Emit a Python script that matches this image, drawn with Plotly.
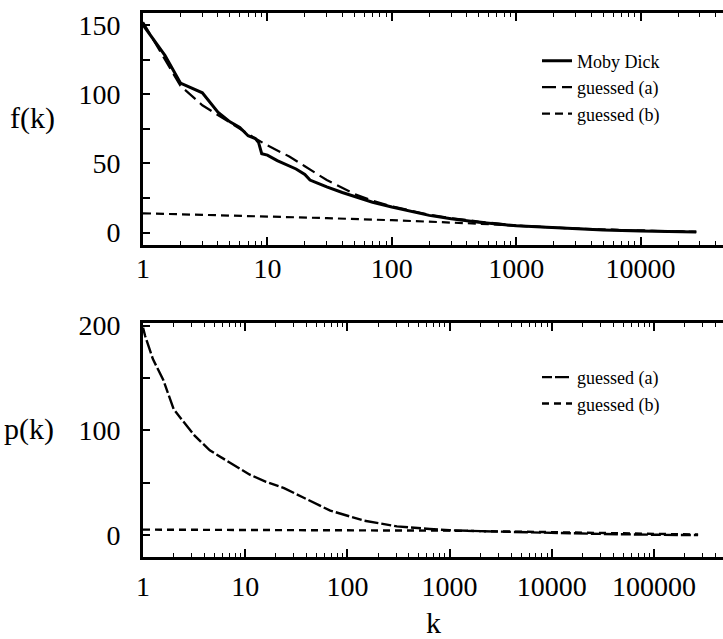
import plotly.graph_objects as go

# ---------------- data ----------------
# top panel: f(k)
moby_k = [1, 1.5, 2, 3, 4, 5, 6, 7, 8, 8.5, 9, 10, 12, 15, 17, 20, 22, 25, 30, 40,
          50, 70, 100, 150, 200, 300, 500, 1000, 2000, 5000, 10000, 20000, 28000]
moby_f = [150, 128, 108, 101, 87, 80, 76, 70, 68, 65, 57, 56, 52, 48, 46, 42, 38, 36, 33, 29,
          26, 22, 18.5, 15, 12.5, 10, 7.5, 5, 3.5, 2, 1.3, 0.8, 0.5]

guess_a_k = [1, 1.5, 2, 3, 4, 5, 6, 8, 10, 15, 20, 30, 50, 70, 100, 150, 200, 300,
             500, 1000, 2000, 5000, 10000, 20000, 28000]
guess_a_f = [152, 125, 106, 92, 85, 79, 75, 68, 63, 55, 48, 38, 28, 23, 19, 15.5, 13, 10.5,
             8, 5.2, 3.6, 2.1, 1.4, 0.9, 0.6]

guess_b_k = [1, 3, 10, 30, 100, 200, 500, 1000, 3000, 10000, 28000]
guess_b_f = [14, 13, 12, 10.5, 9, 8, 6.5, 5, 3, 1.5, 0.6]

# bottom panel: p(k)
pa_k = [1, 1.05, 1.25, 1.58, 2, 2.5, 3.2, 4.5, 7, 11, 16, 24, 37, 68, 145, 305, 640,
        1000, 3000, 10000, 30000, 100000, 270000]
pa_p = [198, 190, 168, 148, 120, 108, 95, 81, 70, 58, 51, 45, 36, 23.5, 14, 8.5, 6,
        4.8, 3.5, 2.2, 1.3, 0.5, 0.2]

pb_k = [1, 10, 100, 1000, 10000, 100000, 270000]
pb_p = [5.4, 5.3, 5.0, 4.4, 3.0, 1.5, 0.7]

legend_top = ["Moby Dick", "guessed (a)", "guessed (b)"]
legend_bot = ["guessed (a)", "guessed (b)"]

# ---------------- layout geometry ----------------
W, H = 723, 639
ML, MR, MT, MB = 143, 0, 5, 82
PW, PH = W - ML - MR, H - MT - MB


def px_x(px):
    return (px - ML) / PW


def px_y(py):
    return (H - MB - py) / PH


FONT = "Liberation Serif, Times New Roman, serif"

fig = go.Figure()

fig.add_trace(go.Scatter(x=moby_k, y=moby_f, name=legend_top[0], mode="lines",
                         line=dict(color="black", width=3), xaxis="x", yaxis="y",
                         legend="legend"))
fig.add_trace(go.Scatter(x=guess_a_k, y=guess_a_f, name=legend_top[1], mode="lines",
                         line=dict(color="black", width=2.2, dash="14px,6px"),
                         xaxis="x", yaxis="y", legend="legend"))
fig.add_trace(go.Scatter(x=guess_b_k, y=guess_b_f, name=legend_top[2], mode="lines",
                         line=dict(color="black", width=2.2, dash="8px,5px"),
                         xaxis="x", yaxis="y", legend="legend"))

fig.add_trace(go.Scatter(x=pa_k, y=pa_p, name=legend_bot[0], mode="lines",
                         line=dict(color="black", width=2.4, dash="10px,3px,14px,3px"),
                         xaxis="x2", yaxis="y2", legend="legend2"))
fig.add_trace(go.Scatter(x=pb_k, y=pb_p, name=legend_bot[1], mode="lines",
                         line=dict(color="black", width=2.4, dash="7px,5px"),
                         xaxis="x2", yaxis="y2", legend="legend2"))

top_dom = [px_y(240), 1.0]
bot_dom = [0.0, px_y(320)]

tickfont = dict(family=FONT, size=28, color="black")

xcommon = dict(type="log", dtick=1, tickformat="d", showline=True, linecolor="black",
               linewidth=2.6, mirror="ticks", ticks="inside", ticklen=8, tickwidth=1.5,
               tickcolor="black", showgrid=False, zeroline=False, tickfont=tickfont,
               minor=dict(dtick="D1", ticks="inside", ticklen=4, tickwidth=1.2,
                          tickcolor="black", showgrid=False))

ycommon = dict(showline=True, linecolor="black", linewidth=3, mirror=False,
               ticks="inside", ticklen=7, tickwidth=1.5, tickcolor="black",
               showgrid=False, zeroline=False, tickfont=tickfont, ticklabelstandoff=14)

legfont = dict(family=FONT, size=18, color="black")

fig.update_layout(
    width=W, height=H,
    margin=dict(l=ML, r=MR, t=MT, b=MB),
    paper_bgcolor="white", plot_bgcolor="white",
    font=dict(family=FONT, color="black"),
    xaxis=dict(xcommon, range=[0, (W - MR - ML) / 124.4], anchor="y", domain=[0, 1],
               ticklabelstandoff=-3),
    yaxis=dict(ycommon, range=[-8.6, 158.6], dtick=50, tick0=0, domain=top_dom,
               anchor="x",
               minor=dict(dtick=25, ticks="inside", ticklen=7, tickwidth=1.5,
                          tickcolor="black", showgrid=False)),
    yaxis3=dict(overlaying="y", side="right", anchor="x", range=[-8.6, 158.6],
                dtick=25, tick0=0, ticks="inside", ticklen=6, tickwidth=1.5,
                tickcolor="black", showticklabels=False, showline=False,
                showgrid=False, zeroline=False),
    xaxis2=dict(xcommon, range=[0, (W - MR - ML) / 102.2], anchor="y2", domain=[0, 1],
                ticklabelstandoff=3),
    yaxis2=dict(ycommon, range=[-20.7, 202], dtick=100, tick0=0, domain=bot_dom,
                anchor="x2",
                minor=dict(dtick=50, ticks="inside", ticklen=7, tickwidth=1.5,
                           tickcolor="black", showgrid=False)),
    yaxis4=dict(overlaying="y2", side="right", anchor="x2", range=[-20.7, 202],
                dtick=50, tick0=0, ticks="inside", ticklen=6, tickwidth=1.5,
                tickcolor="black", showticklabels=False, showline=False,
                showgrid=False, zeroline=False),
    legend=dict(x=px_x(537), y=px_y(35), xanchor="left", yanchor="top",
                bgcolor="rgba(0,0,0,0)", borderwidth=0, tracegroupgap=0,
                font=legfont),
    legend2=dict(x=px_x(537), y=px_y(356), xanchor="left", yanchor="top",
                 bgcolor="rgba(0,0,0,0)", borderwidth=0, tracegroupgap=0,
                 font=legfont),
    annotations=[
        dict(text="f(k)", x=px_x(32), y=px_y(112), xref="paper", yref="paper",
             showarrow=False, xanchor="center", yanchor="middle",
             font=dict(family=FONT, size=30, color="black")),
        dict(text="p(k)", x=px_x(29), y=px_y(427), xref="paper", yref="paper",
             showarrow=False, xanchor="center", yanchor="middle",
             font=dict(family=FONT, size=30, color="black")),
        dict(text="k", x=px_x(434), y=px_y(623), xref="paper", yref="paper",
             showarrow=False, xanchor="center", yanchor="middle",
             font=dict(family=FONT, size=30, color="black")),
    ],
)

fig.write_html(
    "out.html",
    config={"displayModeBar": False},
    post_script="document.body.style.margin='0';document.body.style.padding='0';"
                "document.body.style.overflow='hidden';",
)
